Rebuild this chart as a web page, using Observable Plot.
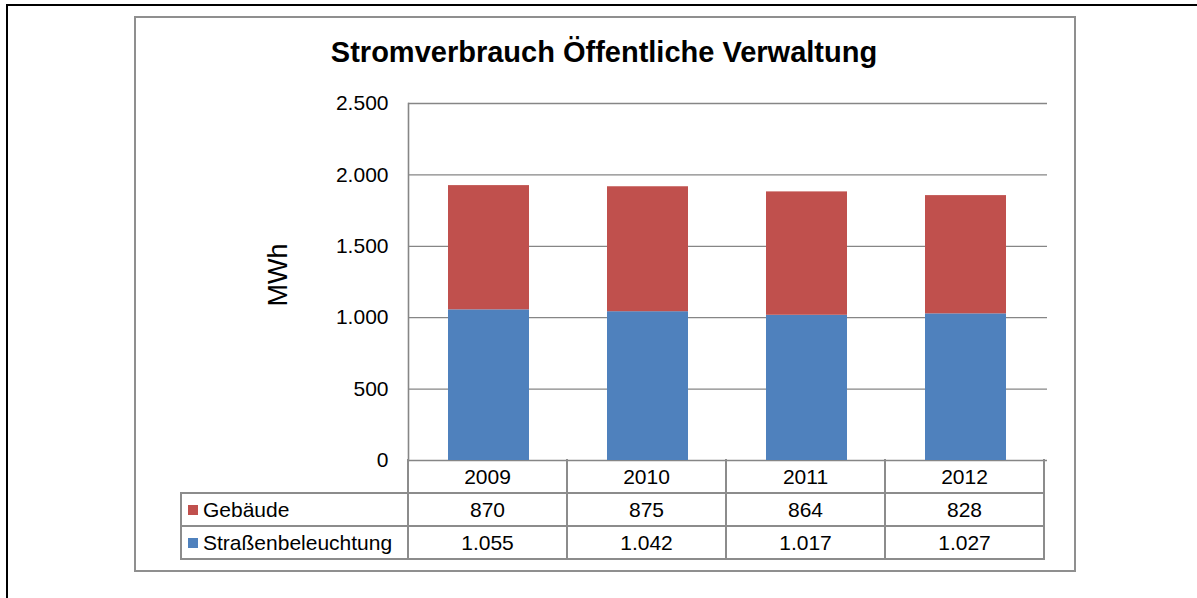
<!DOCTYPE html>
<html>
<head>
<meta charset="utf-8">
<script src="https://cdn.jsdelivr.net/npm/d3@7"></script>
<script src="https://cdn.jsdelivr.net/npm/@observablehq/plot@0.6"></script>
<style>
  html, body { margin: 0; padding: 0; background: #fff; overflow: hidden; }
  #wrap { position: relative; width: 1197px; height: 598px; font-family: "Liberation Sans", Arial, sans-serif; color: #000; }
  .abs { position: absolute; }
  .cell { position: absolute; display: flex; align-items: center; justify-content: center; font-size: 21px; white-space: nowrap; }
  .hl { position: absolute; height: 2px; background: #8c8c8c; }
  .vl { position: absolute; width: 2px; background: #8c8c8c; }
</style>
</head>
<body>
<div id="wrap"></div>
<script>
// ---- data ----
const years = ["2009", "2010", "2011", "2012"];
const seriesNames = ["Straßenbeleuchtung", "Gebäude"];   // stacking order (bottom first)
const strassenbeleuchtung = [1055, 1042, 1017, 1027];
const gebaeude = [870, 875, 864, 828];
const seriesColors = ["#4f81bd", "#c0504d"];
const yTicks = [0, 500, 1000, 1500, 2000, 2500];
const tableRows = ["Gebäude", "Straßenbeleuchtung"];       // table row order
const title = "Stromverbrauch Öffentliche Verwaltung";
const yLabel = "MWh";

// ---- build ----
const valuesBySeries = {"Straßenbeleuchtung": strassenbeleuchtung, "Gebäude": gebaeude};
const data = [];
seriesNames.forEach(s => years.forEach((y, i) => data.push({year: y, series: s, value: valuesBySeries[s][i]})));

const de = d3.formatLocale({decimal: ",", thousands: ".", grouping: [3], currency: ["", " €"]});
const fmt = de.format(",d");

const wrap = document.getElementById("wrap");

// outer black frame (top + left)
const outer = document.createElement("div");
outer.className = "abs";
Object.assign(outer.style, {left: "6px", top: "4px", width: "1300px", height: "700px", borderLeft: "2px solid #000", borderTop: "2px solid #000"});
wrap.appendChild(outer);

// inner grey chart frame
const inner = document.createElement("div");
inner.className = "abs";
Object.assign(inner.style, {left: "134px", top: "16px", width: "942px", height: "556px", border: "2px solid #8f8f8f", boxSizing: "border-box"});
wrap.appendChild(inner);

// title
const t = document.createElement("div");
t.className = "abs";
t.textContent = title;
Object.assign(t.style, {left: "604px", top: "38px", transform: "translateX(-50%)", fontSize: "29px", lineHeight: "29px", fontWeight: "bold", whiteSpace: "nowrap"});
wrap.appendChild(t);

// y-axis title
const yl = document.createElement("div");
yl.className = "abs";
yl.textContent = yLabel;
Object.assign(yl.style, {left: "278px", top: "275px", transform: "translate(-50%, -50%) rotate(-90deg)", fontSize: "27px", lineHeight: "27px", whiteSpace: "nowrap"});
wrap.appendChild(yl);

// plot
const mL = 408, mR = 1197 - 1047, mT = 103, mB = 598 - 460;
const chart = Plot.plot({
  width: 1197,
  height: 598,
  marginLeft: mL,
  marginRight: mR,
  marginTop: mT,
  marginBottom: mB,
  style: {fontFamily: "Liberation Sans, Arial, sans-serif", fontSize: "21px", color: "#000", background: "transparent", overflow: "visible"},
  x: {domain: years, paddingInner: 0.49, paddingOuter: 0.245, axis: null},
  y: {domain: [0, 2500], axis: null},
  color: {domain: seriesNames, range: seriesColors},
  marks: [
    Plot.gridY(yTicks, {stroke: "#868686", strokeOpacity: 1, strokeWidth: 1.3}),
    Plot.frame({anchor: "left", stroke: "#868686", strokeWidth: 1.6}),
    Plot.barY(data, {x: "year", y: "value", fill: "series", order: seriesNames}),
    Plot.axisY(yTicks, {tickSize: 0, tickPadding: 20, tickFormat: fmt, label: null, fontSize: 21})
  ]
});
chart.style.position = "absolute";
chart.style.left = "0px";
chart.style.top = "0px";
wrap.insertBefore(chart, yl);

// data table (below the plot), column geometry taken from the x scale
const xs = chart.scale("x");
const step = xs.step ?? (xs.bandwidth / (1 - 0.49));
const colEdges = [181];
for (let i = 0; i <= years.length; i++) colEdges.push(mL + i * step);
const rowEdges = [460, 493, 526, 559];

function addLine(cls, style) {
  const d = document.createElement("div");
  d.className = cls;
  Object.assign(d.style, style);
  wrap.appendChild(d);
}
// horizontal lines
for (let r = 1; r < rowEdges.length; r++) {
  addLine("hl", {left: (colEdges[0] - 1) + "px", top: (rowEdges[r] - 1) + "px", width: (colEdges[colEdges.length - 1] - colEdges[0] + 2) + "px"});
}
// vertical lines
colEdges.forEach((x, i) => {
  const top = i === 0 ? rowEdges[1] : rowEdges[0];
  addLine("vl", {left: (x - 1) + "px", top: (top - 1) + "px", height: (rowEdges[3] - top + 2) + "px"});
});

function addCell(text, c, r, opts = {}) {
  const d = document.createElement("div");
  d.className = "cell";
  Object.assign(d.style, {left: colEdges[c] + "px", top: rowEdges[r] + "px", width: (colEdges[c + 1] - colEdges[c]) + "px", height: (rowEdges[r + 1] - rowEdges[r]) + "px"}, opts);
  d.textContent = text;
  wrap.appendChild(d);
  return d;
}
years.forEach((y, i) => addCell(y, i + 1, 0));
tableRows.forEach((name, ri) => {
  const r = ri + 1;
  const cell = addCell("", 0, r, {justifyContent: "flex-start"});
  const sw = document.createElement("span");
  Object.assign(sw.style, {display: "inline-block", width: "10px", height: "10px", background: seriesColors[seriesNames.indexOf(name)], marginLeft: "7px", marginRight: "5px"});
  cell.appendChild(sw);
  const lab = document.createElement("span");
  lab.textContent = name;
  cell.appendChild(lab);
  valuesBySeries[name].forEach((v, i) => addCell(fmt(v), i + 1, r));
});
</script>
</body>
</html>
